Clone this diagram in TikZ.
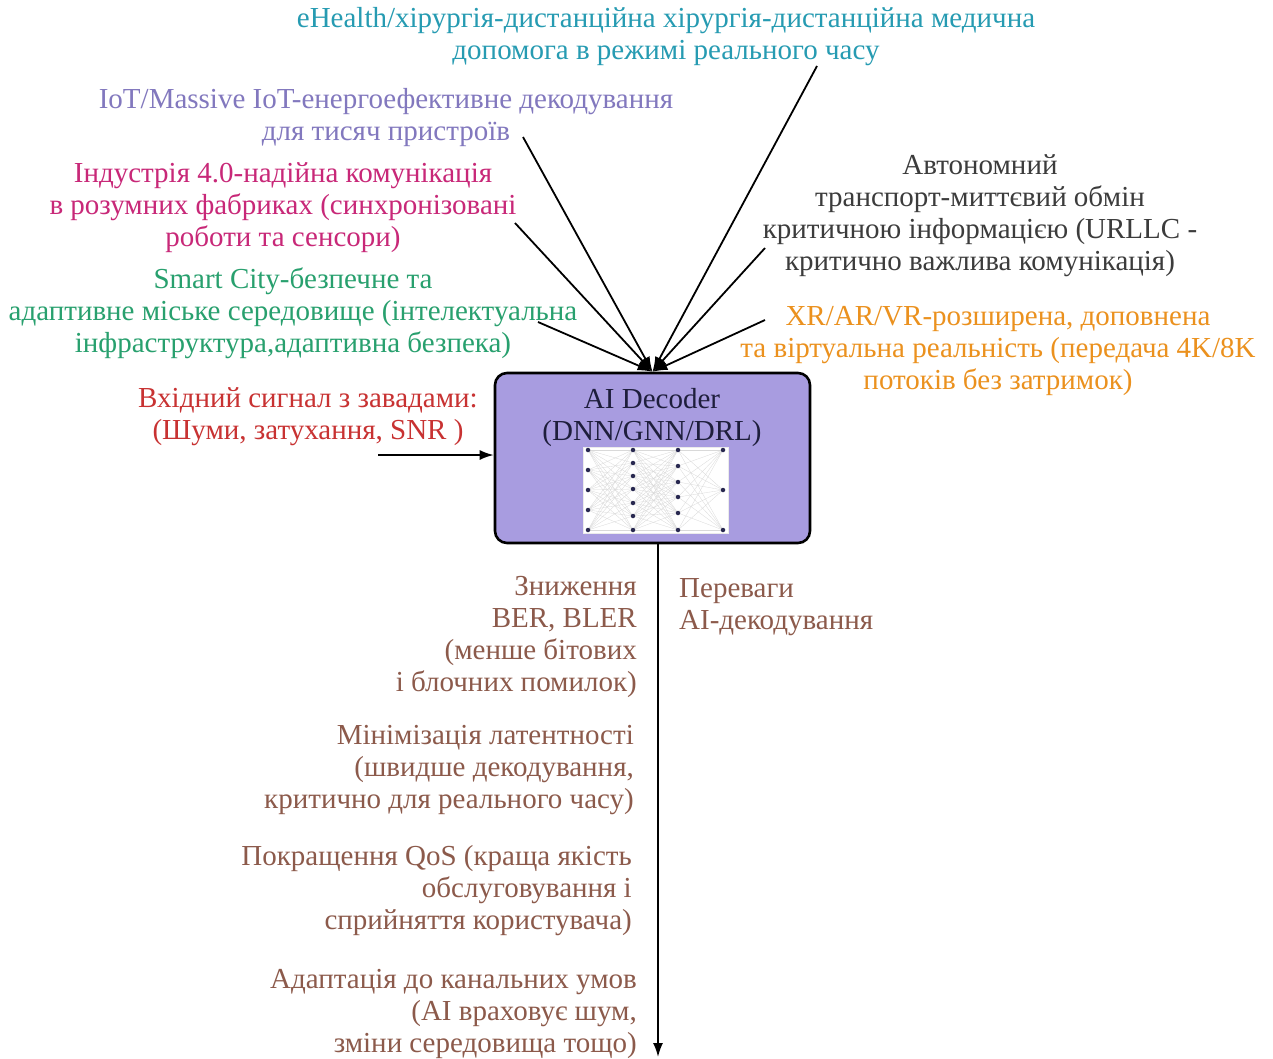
\documentclass[tikz,border=0pt]{standalone}
\usepackage{fontspec}
\setmainfont{Liberation Serif}
\usetikzlibrary{arrows.meta}
\definecolor{cehealth}{RGB}{38,155,178}
\definecolor{ciot}{RGB}{130,120,190}
\definecolor{cind}{RGB}{200,40,120}
\definecolor{csmart}{RGB}{40,160,110}
\definecolor{cauto}{RGB}{60,60,60}
\definecolor{cxr}{RGB}{235,145,30}
\definecolor{cinput}{RGB}{200,50,50}
\definecolor{cbenefit}{RGB}{140,90,75}
\definecolor{boxfill}{RGB}{168,156,224}
\definecolor{boxtext}{RGB}{30,30,60}
\definecolor{neuron}{RGB}{40,40,80}
\begin{document}
\begin{tikzpicture}[x=1pt,y=-1pt,
  lbl/.style={inner sep=0pt, align=center, font=\fontsize{29}{32}\selectfont},
  lblr/.style={lbl, align=right, anchor=east},
  lbll/.style={lbl, align=left, anchor=west},
  feed/.style={line width=1.8pt, -{Latex[length=15pt,width=10pt]}},
  flow/.style={line width=1.8pt, -{Latex[length=14pt,width=10pt]}},
  decoder/.style={draw=black, line width=2.6pt, rounded corners=12pt, fill=boxfill,
    minimum width=315pt, minimum height=170pt, inner sep=0pt},
  neuronstyle/.style={circle, fill=neuron, inner sep=0pt, minimum size=4.5pt},
  synapse/.style={draw=black!15, line width=0.3pt}
]
\useasboundingbox[fill=white] (0,0) rectangle (1273,1058);

% application labels around the decoder
\node[lbl, text=cehealth] (ehealth) at (666,37)
  {eHealth/хірургія-дистанційна хірургія-дистанційна медична\\допомога в режимі реального часу};
\node[lbl, text=ciot] (iot) at (386,118)
  {IoT/Massive IoT-енергоефективне декодування\\для тисяч пристроїв};
\node[lbl, text=cind] (industry) at (283,208)
  {Індустрія 4.0-надійна комунікація\\в розумних фабриках (синхронізовані\\роботи та сенсори)};
\node[lbl, text=csmart] (smart) at (293,313)
  {Smart City-безпечне та\\адаптивне міське середовище (інтелектуальна\\інфраструктура,адаптивна безпека)};
\node[lbl, text=cauto] (auto) at (980,216)
  {Автономний\\транспорт-миттєвий обмін\\критичною інформацією (URLLC -\\критично важлива комунікація)};
\node[lbl, text=cxr] (xr) at (998,351)
  {XR/AR/VR-розширена, доповнена\\та віртуальна реальність (передача 4K/8K\\потоків без затримок)};

% decoder block
\node[decoder] (dec) at (652.5,458) {};
\node[lbl, text=boxtext] (dectitle) at (652,418) {AI Decoder\\(DNN/GNN/DRL)};

% neural network sketch inside the block
\node[fill=white, draw=black!8, minimum width=145pt, minimum height=86pt, inner sep=0pt] (nnpanel) at (655.5,490) {};
\foreach \i/\y in {1/450,2/470,3/490,4/510,5/530} \coordinate (a\i) at (588,\y);
\foreach \i/\y in {1/450,2/463,3/476,4/489,5/503,6/516,7/530} \coordinate (b\i) at (633,\y);
\foreach \i/\y in {1/450,2/466,3/482,4/497,5/513,6/530} \coordinate (c\i) at (678,\y);
\foreach \i/\y in {1/450,2/490,3/530} \coordinate (d\i) at (723,\y);
\foreach \i in {1,...,5} \foreach \j in {1,...,7} \draw[synapse] (a\i) -- (b\j);
\foreach \i in {1,...,7} \foreach \j in {1,...,6} \draw[synapse] (b\i) -- (c\j);
\foreach \i in {1,...,6} \foreach \j in {1,...,3} \draw[synapse] (c\i) -- (d\j);
\foreach \i in {1,...,5} \node[neuronstyle] at (a\i) {};
\foreach \i in {1,...,7} \node[neuronstyle] at (b\i) {};
\foreach \i in {1,...,6} \node[neuronstyle] at (c\i) {};
\foreach \i in {1,...,3} \node[neuronstyle] at (d\i) {};

% feeder lines from each application
\coordinate (ehealthend) at (817,66);
\coordinate (iotend) at (523,137);
\coordinate (industryend) at (515,223);
\coordinate (smartend) at (538,322);
\coordinate (autoend) at (765,248);
\coordinate (xrend) at (765,320);
\foreach \s in {ehealthend,iotend,industryend,smartend,autoend,xrend}
  \draw[feed] (\s) -- (dec.north);

% noisy input
\node[lbl, text=cinput] (input) at (308,417) {Вхідний сигнал з завадами:\\(Шуми, затухання, SNR )};
\coordinate (inputstart) at (378,455);
\draw[flow] (inputstart) -- ([yshift=3pt]dec.west);

% output axis with benefits
\coordinate (outend) at (658,1057);
\draw[flow] ([xshift=5.5pt]dec.south) -- (outend);
\node[lbll, text=cbenefit] (benefits) at (679,607) {Переваги\\AI-декодування};
\node[lblr, text=cbenefit] (ber) at (637,636.5)
  {Зниження\\BER, BLER\\(менше бітових\\і блочних помилок)};
\node[lblr, text=cbenefit] (latency) at (634,770)
  {Мінімізація латентності\\(швидше декодування,\\критично для реального часу)};
\node[lblr, text=cbenefit] (qos) at (632,891)
  {Покращення QoS (краща якість\\обслуговування і\\сприйняття користувача)};
\node[lblr, text=cbenefit] (adapt) at (637,1014)
  {Адаптація до канальних умов\\(AI враховує шум,\\зміни середовища тощо)};
\end{tikzpicture}
\end{document}
